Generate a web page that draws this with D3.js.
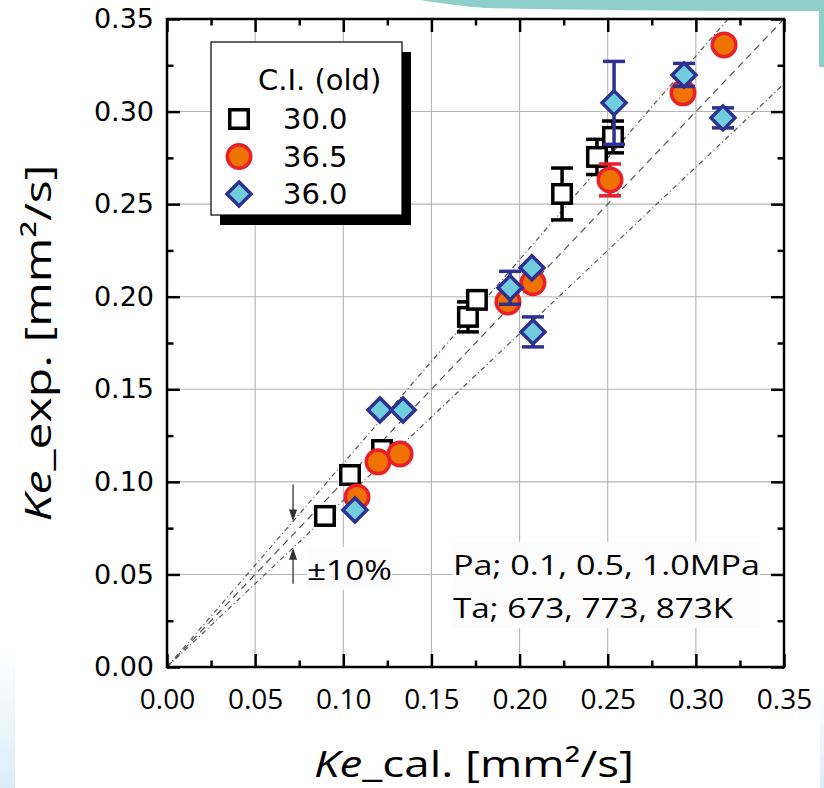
<!DOCTYPE html>
<html>
<head>
<meta charset="utf-8">
<script src="https://cdn.jsdelivr.net/npm/d3@7/dist/d3.min.js"></script>
<style>
  body { margin: 0; background: #fff; }
  svg { display: block; }
</style>
</head>
<body>
<div id="chart"></div>
<script>
// axis ticks
const majorTicks = [0, 0.05, 0.10, 0.15, 0.20, 0.25, 0.30, 0.35];
const minorTicks = [0.025, 0.075, 0.125, 0.175, 0.225, 0.275, 0.325];
const gridTicks = [0.05, 0.10, 0.15, 0.20, 0.25, 0.30];

// C.I. 30.0 (open squares)
const kcal30 = [0.0896, 0.1038, 0.1220, 0.1707, 0.1758, 0.2241, 0.2439, 0.2530];
const kexp30 = [0.0816, 0.1037, 0.1172, 0.1891, 0.1983, 0.2555, 0.2755, 0.2863];
const err30  = [0, 0, 0, 0.0081, 0, 0.0140, 0.0095, 0.0086];

// C.I. 36.5 (orange circles)
const kcal365 = [0.1078, 0.1197, 0.1322, 0.1934, 0.2076, 0.2513, 0.2927, 0.3160];
const kexp365 = [0.0918, 0.1108, 0.1151, 0.1972, 0.2075, 0.2631, 0.3101, 0.3360];
const err365  = [0, 0, 0, 0, 0, 0.0086, 0, 0];

// C.I. 36.0 (blue diamonds)
const kcal360 = [0.1066, 0.1208, 0.1339, 0.1946, 0.2070, 0.2076, 0.2536, 0.2933, 0.3154];
const kexp360 = [0.0848, 0.1388, 0.1388, 0.2048, 0.2156, 0.1810, 0.3047, 0.3198, 0.2966];
const err360  = [0, 0, 0, 0.0089, 0, 0.0081, 0.0224, 0.0062, 0.0054];

const legendLabels = ['30.0', '36.5', '36.0'];
const refSlopes = [1.1, 1.0, 0.9];
const arrowAt = 0.0715;

const width = 824, height = 788;
const x = d3.scaleLinear().domain([0, 0.35]).range([167, 784]);
const y = d3.scaleLinear().domain([0, 0.35]).range([667, 19]);

const svg = d3.select('#chart').append('svg')
    .attr('width', width)
    .attr('height', height);

// slide decoration behind the chart
const defs = svg.append('defs');
const grad = defs.append('linearGradient').attr('id', 'fadeBlue')
    .attr('x1', 0).attr('y1', 0).attr('x2', 0).attr('y2', 1);
grad.append('stop').attr('offset', 0).attr('stop-color', '#ffffff');
grad.append('stop').attr('offset', 1).attr('stop-color', '#dcedf9');
svg.append('path')
    .attr('d', 'M420,0 L824,0 L824,67 L819,67 L819,11 Q620,11 485,8 Q450,5 420,0 Z')
    .attr('fill', '#8ecfcb');
svg.append('rect').attr('x', 0).attr('y', 647).attr('width', 15).attr('height', 141)
    .attr('fill', 'url(#fadeBlue)');
svg.append('rect').attr('x', 820).attr('y', 687).attr('width', 4).attr('height', 101)
    .attr('fill', 'url(#fadeBlue)');

defs.append('clipPath').attr('id', 'plotClip')
  .append('rect')
    .attr('x', x(0)).attr('y', y(0.35))
    .attr('width', x(0.35) - x(0)).attr('height', y(0) - y(0.35));

// grid
const grid = svg.append('g').attr('stroke', '#b4b4b4').attr('stroke-width', 1.1);
grid.selectAll('.gx').data(gridTicks).enter().append('line')
    .attr('x1', d => x(d)).attr('x2', d => x(d))
    .attr('y1', y(0)).attr('y2', y(0.35));
grid.selectAll('.gy').data(gridTicks).enter().append('line')
    .attr('y1', d => y(d)).attr('y2', d => y(d))
    .attr('x1', x(0)).attr('x2', x(0.35));

// text boxes hide the grid
svg.append('rect').attr('x', 307).attr('y', 547).attr('width', 85).attr('height', 43).attr('fill', '#fcfcfc');
svg.append('rect').attr('x', 453).attr('y', 542).attr('width', 307).attr('height', 86).attr('fill', '#fcfcfc');

// reference lines y = 1.1x, x, 0.9x
const refDash = ['5,3,1,3', '7,5', '5,3,1,3'];
svg.append('g').attr('clip-path', 'url(#plotClip)')
  .selectAll('line').data(refSlopes).enter().append('line')
    .attr('x1', x(0)).attr('y1', y(0))
    .attr('x2', x(0.35)).attr('y2', d => y(0.35 * d))
    .attr('stroke', '#555')
    .attr('stroke-width', 1.2)
    .attr('stroke-dasharray', (d, i) => refDash[i]);

// +-10% arrows
const arrows = svg.append('g').attr('stroke', '#333').attr('fill', '#333');
const ax = x(arrowAt);
const tipDown = y(1.1 * arrowAt), tipUp = y(0.9 * arrowAt);
arrows.append('line').attr('x1', ax).attr('x2', ax).attr('y1', tipDown - 37).attr('y2', tipDown - 8).attr('stroke-width', 1.3);
arrows.append('path').attr('d', `M${ax - 4},${tipDown - 12} L${ax + 4},${tipDown - 12} L${ax},${tipDown} Z`).attr('stroke', 'none');
arrows.append('line').attr('x1', ax).attr('x2', ax).attr('y1', tipUp + 36).attr('y2', tipUp + 8).attr('stroke-width', 1.3);
arrows.append('path').attr('d', `M${ax - 4},${tipUp + 12} L${ax + 4},${tipUp + 12} L${ax},${tipUp} Z`).attr('stroke', 'none');

svg.append('text').attr('x', 307).attr('y', 580)
    .attr('font-family', '"Open Sans", sans-serif').attr('font-size', 28)
    .attr('textLength', 85).attr('lengthAdjust', 'spacingAndGlyphs')
    .text('±10%');
svg.append('text').attr('x', 453).attr('y', 575)
    .attr('font-family', '"Open Sans", sans-serif').attr('font-size', 28)
    .attr('textLength', 307).attr('lengthAdjust', 'spacingAndGlyphs')
    .text('Pa; 0.1, 0.5, 1.0MPa');
svg.append('text').attr('x', 453).attr('y', 618)
    .attr('font-family', '"Open Sans", sans-serif').attr('font-size', 28)
    .attr('textLength', 280).attr('lengthAdjust', 'spacingAndGlyphs')
    .text('Ta; 673, 773, 873K');

// axes
function styleAxis(g) {
    g.select('.domain').remove();
    g.selectAll('.tick line').attr('stroke', '#000').attr('stroke-width', 2.5);
}
svg.append('g').attr('transform', `translate(0,${y(0)})`)
    .call(d3.axisBottom(x).tickValues(majorTicks).tickSizeInner(-13).tickSizeOuter(0)
        .tickPadding(22).tickFormat(d3.format('.2f')))
    .call(styleAxis)
    .call(g => g.selectAll('text').attr('font-family', '"Open Sans", sans-serif')
        .attr('font-size', 28).attr('fill', '#000'));
svg.append('g').attr('transform', `translate(${x(0)},0)`)
    .call(d3.axisLeft(y).tickValues(majorTicks).tickSizeInner(-13).tickSizeOuter(0)
        .tickPadding(13).tickFormat(d3.format('.2f')))
    .call(styleAxis)
    .call(g => g.selectAll('text').attr('font-family', '"DejaVu Sans", sans-serif')
        .attr('font-size', 27).attr('fill', '#000'));
svg.append('g').attr('transform', `translate(0,${y(0.35)})`)
    .call(d3.axisTop(x).tickValues(majorTicks).tickSizeInner(-13).tickSizeOuter(0).tickFormat(''))
    .call(styleAxis);
svg.append('g').attr('transform', `translate(${x(0.35)},0)`)
    .call(d3.axisRight(y).tickValues(majorTicks).tickSizeInner(-13).tickSizeOuter(0).tickFormat(''))
    .call(styleAxis);
// minor ticks
svg.append('g').attr('transform', `translate(0,${y(0)})`)
    .call(d3.axisBottom(x).tickValues(minorTicks).tickSizeInner(-6.5).tickSizeOuter(0).tickFormat(''))
    .call(styleAxis);
svg.append('g').attr('transform', `translate(${x(0)},0)`)
    .call(d3.axisLeft(y).tickValues(minorTicks).tickSizeInner(-6.5).tickSizeOuter(0).tickFormat(''))
    .call(styleAxis);
svg.append('g').attr('transform', `translate(0,${y(0.35)})`)
    .call(d3.axisTop(x).tickValues(minorTicks).tickSizeInner(-6.5).tickSizeOuter(0).tickFormat(''))
    .call(styleAxis);
svg.append('g').attr('transform', `translate(${x(0.35)},0)`)
    .call(d3.axisRight(y).tickValues(minorTicks).tickSizeInner(-6.5).tickSizeOuter(0).tickFormat(''))
    .call(styleAxis);

svg.append('rect')
    .attr('x', x(0)).attr('y', y(0.35))
    .attr('width', x(0.35) - x(0)).attr('height', y(0) - y(0.35))
    .attr('fill', 'none').attr('stroke', '#000').attr('stroke-width', 2.5);

// axis titles
const xt = svg.append('text').attr('x', 474).attr('y', 777)
    .attr('text-anchor', 'middle')
    .attr('font-family', '"Open Sans", sans-serif').attr('font-size', 37)
    .attr('textLength', 320).attr('lengthAdjust', 'spacingAndGlyphs');
xt.append('tspan').attr('font-style', 'italic').text('Ke');
xt.append('tspan').text('_cal. [mm²/s]');

const yt = svg.append('text')
    .attr('transform', 'translate(51,343) rotate(-90)')
    .attr('text-anchor', 'middle')
    .attr('font-family', '"Open Sans", sans-serif').attr('font-size', 36)
    .attr('textLength', 357).attr('lengthAdjust', 'spacingAndGlyphs');
yt.append('tspan').attr('font-style', 'italic').text('Ke');
yt.append('tspan').text('_exp. [mm²/s]');

// series
const styles = [
    { shape: 'square', fill: '#fff', stroke: '#000' },
    { shape: 'circle', fill: '#ef7203', stroke: '#e8202a' },
    { shape: 'diamond', fill: '#6fcddc', stroke: '#2e3192' }
];
const seriesX = [kcal30, kcal365, kcal360];
const seriesY = [kexp30, kexp365, kexp360];
const seriesErr = [err30, err365, err360];

function drawMarker(g, shape, st) {
    if (shape === 'square') {
        g.append('rect').attr('x', -9.25).attr('y', -9.25).attr('width', 18.5).attr('height', 18.5);
    } else if (shape === 'circle') {
        g.append('circle').attr('r', 11.75);
    } else {
        g.append('path').attr('d', 'M0,-12 L12,0 L0,12 L-12,0 Z');
    }
    g.attr('fill', st.fill).attr('stroke', st.stroke).attr('stroke-width', 3.5);
}

seriesX.forEach((xs, si) => {
    const st = styles[si];
    const pts = xs.map((v, i) => ({ x: v, y: seriesY[si][i], e: seriesErr[si][i] }));
    const eg = svg.append('g').attr('stroke', st.stroke).attr('stroke-width', 3.5);
    pts.filter(p => p.e > 0).forEach(p => {
        const cx = x(p.x);
        eg.append('line').attr('x1', cx).attr('x2', cx).attr('y1', y(p.y + p.e)).attr('y2', y(p.y - p.e));
        eg.append('line').attr('x1', cx - 11).attr('x2', cx + 11).attr('y1', y(p.y + p.e)).attr('y2', y(p.y + p.e));
        eg.append('line').attr('x1', cx - 11).attr('x2', cx + 11).attr('y1', y(p.y - p.e)).attr('y2', y(p.y - p.e));
    });
    svg.append('g').selectAll('g').data(pts).enter().append('g')
        .attr('transform', d => `translate(${x(d.x)},${y(d.y)})`)
        .each(function () { drawMarker(d3.select(this), st.shape, st); });
});

// legend
const legend = svg.append('g');
legend.append('rect').attr('x', 220).attr('y', 52).attr('width', 191).attr('height', 173).attr('fill', '#000');
legend.append('rect').attr('x', 211).attr('y', 42).attr('width', 191).attr('height', 173)
    .attr('fill', '#fff').attr('stroke', '#000').attr('stroke-width', 1.2);
legend.append('text').attr('x', 258).attr('y', 90)
    .attr('font-family', '"DejaVu Sans", sans-serif').attr('font-size', 29)
    .text('C.I. (old)');
legendLabels.forEach((lab, i) => {
    const ly = 119 + i * 37.5;
    const g = legend.append('g').attr('transform', `translate(239,${ly})`);
    drawMarker(g, styles[i].shape, styles[i]);
    legend.append('text').attr('x', 283).attr('y', ly + 10)
        .attr('font-family', '"DejaVu Sans", sans-serif').attr('font-size', 29)
        .text(lab);
});
</script>
</body>
</html>
